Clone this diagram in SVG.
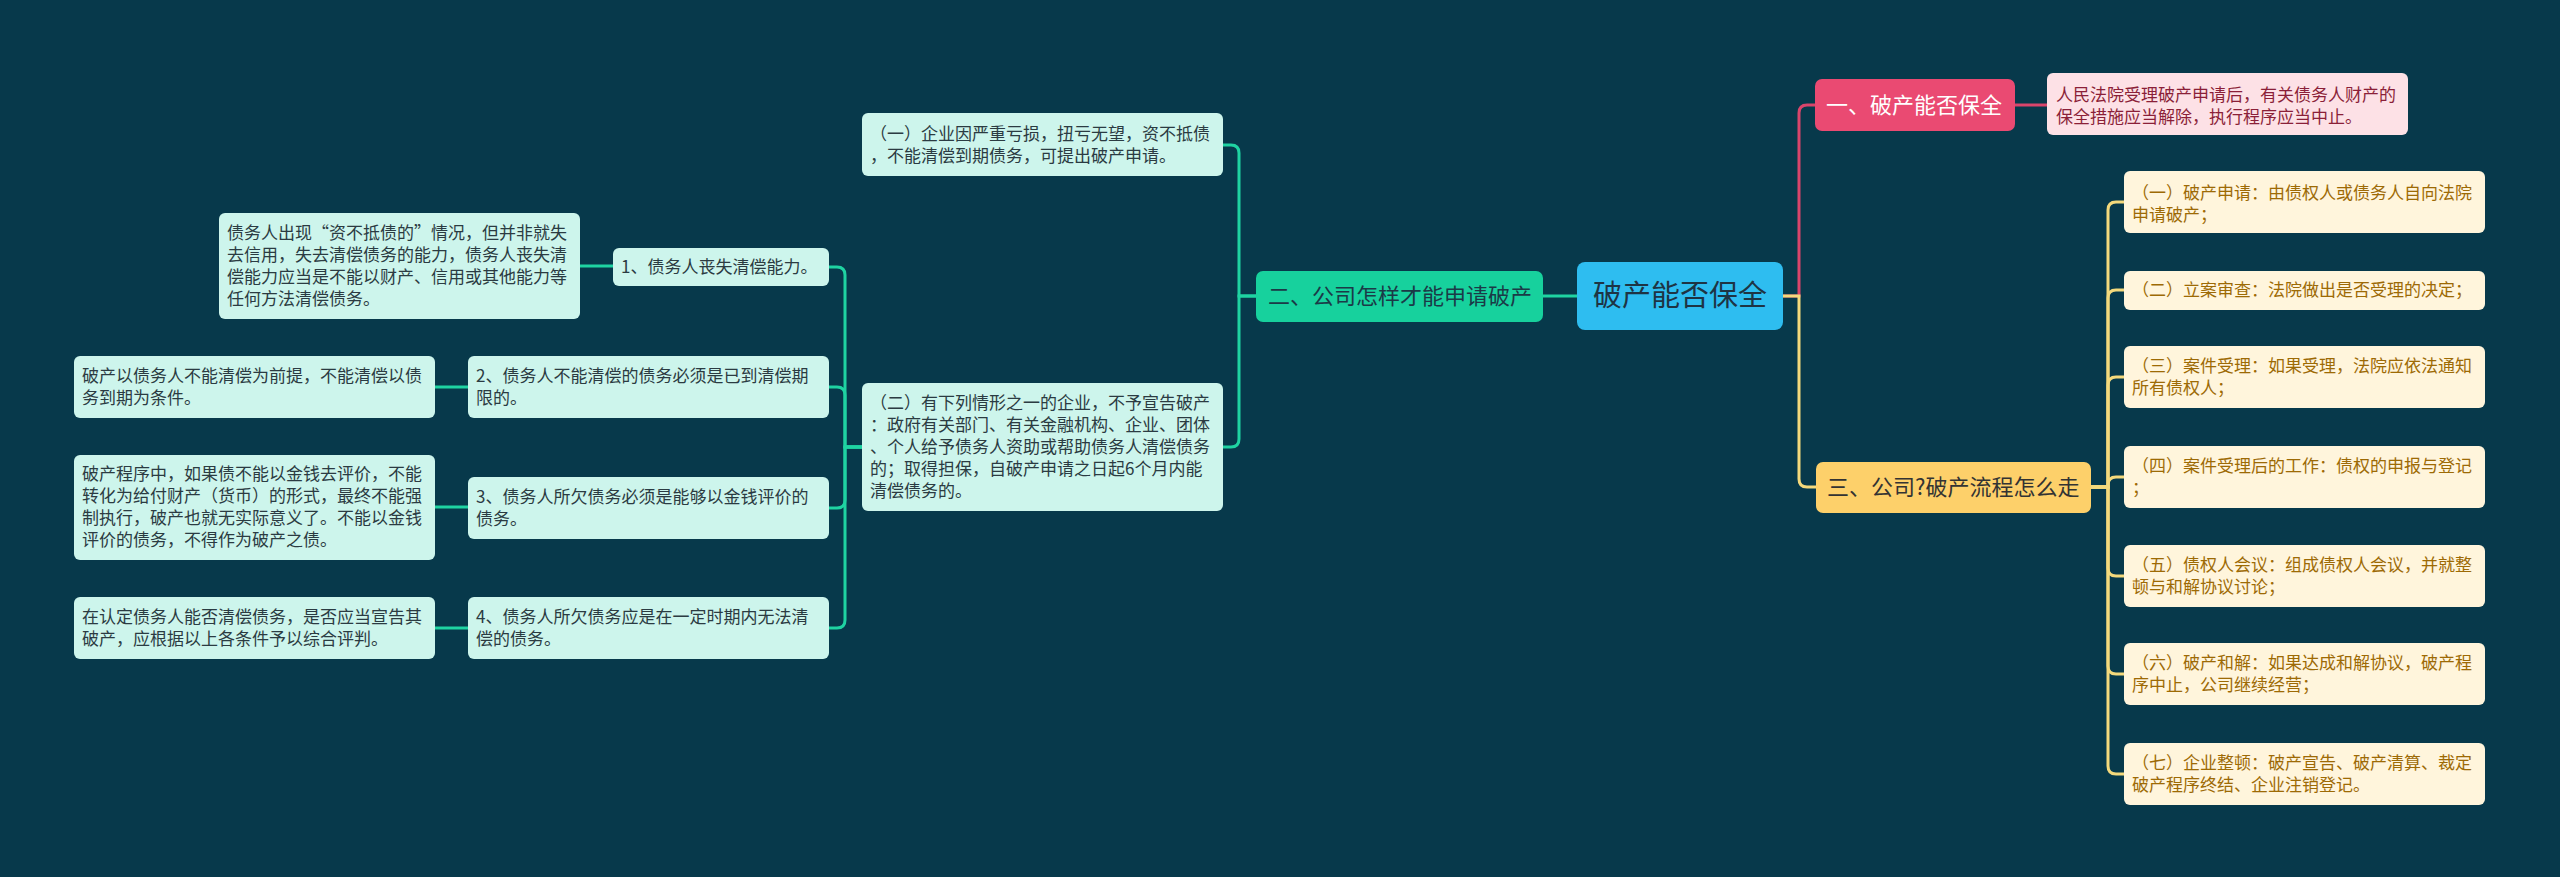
<svg xmlns="http://www.w3.org/2000/svg" width="2560" height="877" viewBox="0 0 2560 877">
<style>
text{font-family:"Noto Sans CJK SC","Noto Sans",sans-serif;}
.cn{fill:#2ebdf0;}
.cnt{font-size:29px;fill:#1e3444;}
.b1{fill:#ea4a72;}
.b1t{font-size:22px;fill:#ffffff;}
.l1{fill:#fde1e6;}
.l1t{font-size:17px;fill:#8b1f38;}
.b2{fill:#17d19d;}
.b2t{font-size:22px;fill:#1b3a47;}
.l2{fill:#cdf5ec;}
.l2t{font-size:17px;fill:#2b3b42;}
.b3{fill:#fdd06a;}
.b3t{font-size:22px;fill:#333333;}
.l3{fill:#fff5dc;}
.l3t{font-size:17px;fill:#9d6a05;}
.c{fill:none;stroke-width:3;}
.cp{stroke:#d9456b;}
.cg{stroke:#1fd3a2;}
.cy{stroke:#f4d97c;}
</style>
<rect x="0" y="0" width="2560" height="877" fill="#07394b"/>
<g id="connectors">
<path class="c cp" d="M1783,296 H1799 V113 Q1799,105 1807,105 H1815"/>
<path class="c cp" d="M2015,105 H2047"/>
<path class="c cy" d="M1783,296 H1799 V479 Q1799,487 1807,487 H1816"/>
<path class="c cy" d="M2091,487 H2108 V210 Q2108,202 2116,202 H2124"/>
<path class="c cy" d="M2091,487 H2108 V298 Q2108,290 2116,290 H2124"/>
<path class="c cy" d="M2091,487 H2108 V385 Q2108,377 2116,377 H2124"/>
<path class="c cy" d="M2091,487 H2108 V485 Q2108,477 2116,477 H2124"/>
<path class="c cy" d="M2091,487 H2108 V568 Q2108,576 2116,576 H2124"/>
<path class="c cy" d="M2091,487 H2108 V666 Q2108,674 2116,674 H2124"/>
<path class="c cy" d="M2091,487 H2108 V766 Q2108,774 2116,774 H2124"/>
<path class="c cg" d="M1577,296 H1543"/>
<path class="c cg" d="M1256,296 H1239 V153 Q1239,145 1231,145 H1223"/>
<path class="c cg" d="M1256,296 H1239 V439 Q1239,447 1231,447 H1223"/>
<path class="c cg" d="M862,447 H845 V275 Q845,267 837,267 H829"/>
<path class="c cg" d="M862,447 H845 V395 Q845,387 837,387 H829"/>
<path class="c cg" d="M862,447 H845 V500 Q845,508 837,508 H829"/>
<path class="c cg" d="M862,447 H845 V620 Q845,628 837,628 H829"/>
<path class="c cg" d="M580,266 H613"/>
<path class="c cg" d="M435,387 H468"/>
<path class="c cg" d="M435,507 H468"/>
<path class="c cg" d="M435,628 H468"/>
</g>
<g id="root">
<rect class="cn" x="1577" y="262" width="206" height="68" rx="8"/>
<text class="cnt" x="1680" y="306" text-anchor="middle">破产能否保全</text>
</g>
<g id="branch1">
<rect class="b1" x="1815" y="79" width="200" height="52" rx="7"/>
<text class="b1t" x="1826" y="113">一、破产能否保全</text>
</g>
<g id="leaf1-1">
<rect class="l1" x="2047" y="73" width="361" height="62" rx="6"/>
<text class="l1t" x="2056" y="101">人民法院受理破产申请后，有关债务人财产的</text>
<text class="l1t" x="2056" y="123">保全措施应当解除，执行程序应当中止。</text>
</g>
<g id="branch3">
<rect class="b3" x="1816" y="462" width="275" height="51" rx="7"/>
<text class="b3t" x="1827" y="495">三、公司?破产流程怎么走</text>
</g>
<g id="leaf3-1">
<rect class="l3" x="2124" y="171" width="361" height="62" rx="6"/>
<text class="l3t" x="2132" y="199">（一）破产申请：由债权人或债务人自向法院</text>
<text class="l3t" x="2132" y="221">申请破产；</text>
</g>
<g id="leaf3-2">
<rect class="l3" x="2124" y="271" width="361" height="39" rx="6"/>
<text class="l3t" x="2132" y="296">（二）立案审查：法院做出是否受理的决定；</text>
</g>
<g id="leaf3-3">
<rect class="l3" x="2124" y="346" width="361" height="62" rx="6"/>
<text class="l3t" x="2132" y="372">（三）案件受理：如果受理，法院应依法通知</text>
<text class="l3t" x="2132" y="394">所有债权人；</text>
</g>
<g id="leaf3-4">
<rect class="l3" x="2124" y="446" width="361" height="62" rx="6"/>
<text class="l3t" x="2132" y="472">（四）案件受理后的工作：债权的申报与登记</text>
<text class="l3t" x="2132" y="494">；</text>
</g>
<g id="leaf3-5">
<rect class="l3" x="2124" y="545" width="361" height="62" rx="6"/>
<text class="l3t" x="2132" y="571">（五）债权人会议：组成债权人会议，并就整</text>
<text class="l3t" x="2132" y="593">顿与和解协议讨论；</text>
</g>
<g id="leaf3-6">
<rect class="l3" x="2124" y="643" width="361" height="62" rx="6"/>
<text class="l3t" x="2132" y="669">（六）破产和解：如果达成和解协议，破产程</text>
<text class="l3t" x="2132" y="691">序中止，公司继续经营；</text>
</g>
<g id="leaf3-7">
<rect class="l3" x="2124" y="743" width="361" height="62" rx="6"/>
<text class="l3t" x="2132" y="769">（七）企业整顿：破产宣告、破产清算、裁定</text>
<text class="l3t" x="2132" y="791">破产程序终结、企业注销登记。</text>
</g>
<g id="branch2">
<rect class="b2" x="1256" y="271" width="287" height="51" rx="7"/>
<text class="b2t" x="1268" y="304">二、公司怎样才能申请破产</text>
</g>
<g id="leaf2-1">
<rect class="l2" x="862" y="113" width="361" height="63" rx="6"/>
<text class="l2t" x="870" y="140">（一）企业因严重亏损，扭亏无望，资不抵债</text>
<text class="l2t" x="870" y="162">，不能清偿到期债务，可提出破产申请。</text>
</g>
<g id="leaf2-2">
<rect class="l2" x="862" y="383" width="361" height="128" rx="6"/>
<text class="l2t" x="870" y="409">（二）有下列情形之一的企业，不予宣告破产</text>
<text class="l2t" x="870" y="431">：政府有关部门、有关金融机构、企业、团体</text>
<text class="l2t" x="870" y="453">、个人给予债务人资助或帮助债务人清偿债务</text>
<text class="l2t" x="870" y="475">的；取得担保，自破产申请之日起6个月内能</text>
<text class="l2t" x="870" y="497">清偿债务的。</text>
</g>
<g id="n1">
<rect class="l2" x="613" y="248" width="216" height="38" rx="6"/>
<text class="l2t" x="621" y="273">1、债务人丧失清偿能力。</text>
</g>
<g id="n2">
<rect class="l2" x="468" y="356" width="361" height="62" rx="6"/>
<text class="l2t" x="476" y="382">2、债务人不能清偿的债务必须是已到清偿期</text>
<text class="l2t" x="476" y="404">限的。</text>
</g>
<g id="n3">
<rect class="l2" x="468" y="477" width="361" height="62" rx="6"/>
<text class="l2t" x="476" y="503">3、债务人所欠债务必须是能够以金钱评价的</text>
<text class="l2t" x="476" y="525">债务。</text>
</g>
<g id="n4">
<rect class="l2" x="468" y="597" width="361" height="62" rx="6"/>
<text class="l2t" x="476" y="623">4、债务人所欠债务应是在一定时期内无法清</text>
<text class="l2t" x="476" y="645">偿的债务。</text>
</g>
<g id="d1">
<rect class="l2" x="219" y="213" width="361" height="106" rx="6"/>
<text class="l2t" x="227" y="239">债务人出现“资不抵债的”情况，但并非就失</text>
<text class="l2t" x="227" y="261">去信用，失去清偿债务的能力，债务人丧失清</text>
<text class="l2t" x="227" y="283">偿能力应当是不能以财产、信用或其他能力等</text>
<text class="l2t" x="227" y="305">任何方法清偿债务。</text>
</g>
<g id="d2">
<rect class="l2" x="74" y="356" width="361" height="62" rx="6"/>
<text class="l2t" x="82" y="382">破产以债务人不能清偿为前提，不能清偿以债</text>
<text class="l2t" x="82" y="404">务到期为条件。</text>
</g>
<g id="d3">
<rect class="l2" x="74" y="455" width="361" height="105" rx="6"/>
<text class="l2t" x="82" y="480">破产程序中，如果债不能以金钱去评价，不能</text>
<text class="l2t" x="82" y="502">转化为给付财产（货币）的形式，最终不能强</text>
<text class="l2t" x="82" y="524">制执行，破产也就无实际意义了。不能以金钱</text>
<text class="l2t" x="82" y="546">评价的债务，不得作为破产之债。</text>
</g>
<g id="d4">
<rect class="l2" x="74" y="597" width="361" height="62" rx="6"/>
<text class="l2t" x="82" y="623">在认定债务人能否清偿债务，是否应当宣告其</text>
<text class="l2t" x="82" y="645">破产，应根据以上各条件予以综合评判。</text>
</g>
</svg>
